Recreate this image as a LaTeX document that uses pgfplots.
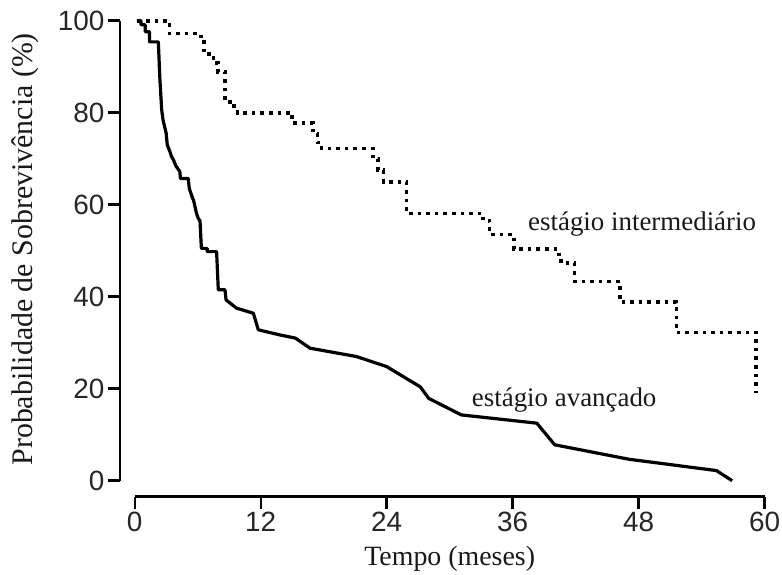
\documentclass[border=0pt]{standalone}
\usepackage{fontspec}
\setmainfont{Liberation Serif}
\newfontfamily\tickfont{Liberation Sans}
\usepackage{pgfplots}
\pgfplotsset{compat=1.18}

\begin{document}
\begin{tikzpicture}
\begin{axis}[
  scale only axis, width=630bp, height=460bp,
  xmin=0, xmax=60, ymin=0, ymax=100,
  axis lines*=left,
  axis x line shift=16bp,
  axis y line shift=14.7bp,
  axis line style={line width=2.4bp, black},
  xtick={0,12,...,60}, ytick={0,20,...,100},
  tick align=outside, major tick length=12bp,
  tick style={line width=2.4bp, black},
  /pgf/number format/assume math mode=true,
  tick label style={font=\tickfont\fontsize{28}{28}\selectfont, text=black!85},
  xlabel={Tempo (meses)},
  ylabel={Probabilidade de Sobrevivência (\%)},
  xlabel style={font=\fontsize{28}{28}\selectfont, text=black!90,
    at={(axis description cs:0.5,-0.185)}, anchor=base},
  ylabel style={font=\fontsize{30}{30}\selectfont, text=black!90,
    at={(axis description cs:-0.174,0.503)}, anchor=center},
  clip=false,
]
% estagio avancado
\addplot[black, line width=3.2bp, line join=round] coordinates {
(0.2,100)(0.6,100)(0.6,99.1)(1.0,99.1)(1.0,97.6)(1.4,97.6)(1.4,95.4)(2.25,95.4)
(2.4,87.2)(2.57,80.6)(2.7,78.4)(3.0,75.5)(3.1,73)(3.36,71.5)(3.5,70.5)(3.7,69.7)
(3.9,68.5)(4.3,67.2)(4.35,65.7)(5.1,65.7)(5.2,63.5)(5.5,61.5)(5.6,61)(5.9,58)
(6.06,57)(6.22,56.5)(6.35,50.5)
(6.9,50.5)(6.9,49.8)(7.8,49.8)(7.96,41.5)(8.6,41.5)(8.7,39.3)(9.7,37.5)
(11.3,36.4)(11.77,32.8)(13.8,31.7)(15.3,31.0)(16.7,28.8)(21.1,27.0)(24.0,24.8)
(27.2,20.4)(28.0,17.9)(31.1,14.3)(38.3,12.5)(40.0,7.8)(47.1,4.65)(55.4,2.2)(56.9,0)
};
% estagio intermediario
\addplot[const plot, black, line width=3.7bp, dash pattern=on 3.6bp off 5bp] coordinates {
(0.25,100)(3.3,97.2)(6.3,95.8)(6.6,93.5)(7.1,92.4)(7.5,90.8)(7.9,88.9)(8.6,82.4)
(9.3,81.4)(9.8,80)(15.0,77.8)(17.0,75.5)(17.4,73.5)(17.8,72.2)(22.7,70)(23.2,67.5)
(23.7,65.0)(25.9,58.1)(33.2,56.5)(33.8,53.5)(36.1,50.3)(40.4,47.8)(41.0,47.3)
(41.9,43.3)(46.2,38.9)(51.6,32.2)(59.2,19.0)
};
\node[anchor=base west, inner sep=0pt, font=\fontsize{27}{27}\selectfont, text=black!90]
  at (axis cs:37.46,54.3) {estágio intermediário};
\node[anchor=base west, inner sep=0pt, font=\fontsize{27}{27}\selectfont, text=black!90]
  at (axis cs:32.1,16.2) {estágio avançado};
\coordinate (bbll) at (axis cs:-12.83,-20.5);
\coordinate (bbur) at (axis cs:61.65,104.5);
\end{axis}
\pgfresetboundingbox
\path[use as bounding box] (bbll) rectangle (bbur);
\end{tikzpicture}
\end{document}
